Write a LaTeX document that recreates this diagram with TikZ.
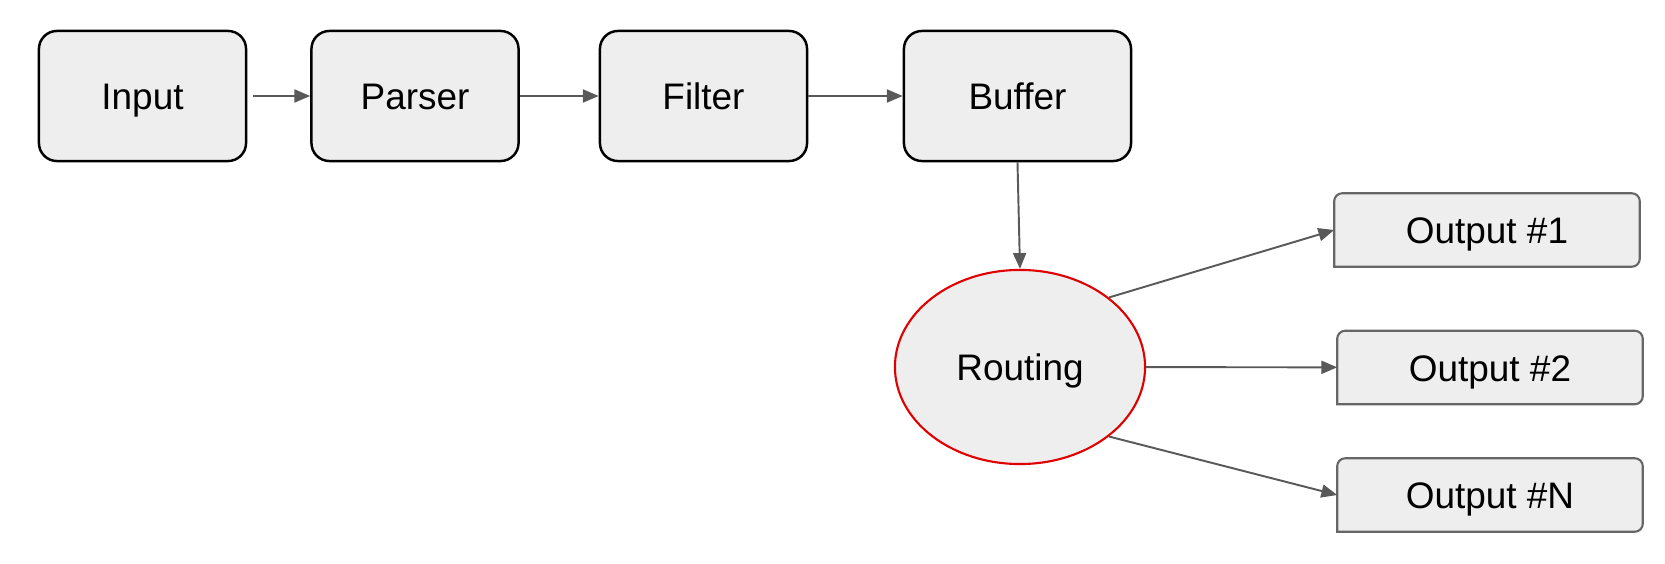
\documentclass[tikz,border=0pt]{standalone}
\usepackage{fontspec}
\setmainfont{Liberation Sans}
\usetikzlibrary{arrows.meta,shapes.geometric,backgrounds}
\definecolor{boxfill}{HTML}{EEEEEE}
\definecolor{linegray}{HTML}{595959}
\definecolor{outgray}{HTML}{666666}
\definecolor{routred}{HTML}{E00000}
\begin{document}
\begin{tikzpicture}[x=0.01cm,y=-0.01cm,
    font=\fontsize{10.5}{12.6}\selectfont,
    every node/.style={text height=0.88em,text depth=0.1em},
    stage/.style={draw=black,line width=0.7pt,fill=boxfill,rounded corners=0.18cm,
        minimum width=2.07cm,minimum height=1.30cm},
    outbox/.style={minimum width=3.04cm,minimum height=0.72cm},
    outline/.style={draw=outgray,line width=0.6pt,fill=boxfill},
    router/.style={ellipse,draw=routred,line width=0.6pt,fill=boxfill,
        minimum width=2.50cm,minimum height=1.94cm},
    flow/.style={draw=linegray,line width=0.55pt,-{Triangle[length=4.5pt,width=3.7pt]}}]
    \useasboundingbox (0,0) rectangle (1665,564);

    \node[stage] (input)  at (142.5,96) {Input};
    \node[stage] (parser) at (415,96) {Parser};
    \node[stage] (filter) at (703.5,96) {Filter};
    \node[stage,minimum width=2.27cm] (buffer) at (1017.5,96) {Buffer};

    \node[router] (rout) at (1020,367) {Routing};

    \node[outbox] (out1) at (1487,230) {Output \#1};
    \node[outbox] (out2) at (1490,367.5) {Output \#2};
    \node[outbox] (outN) at (1490,495) {Output \#N};

    \begin{scope}[on background layer]
    \foreach \o in {out1,out2,outN}
        \path[outline] (\o.south west) [rounded corners=0.08cm] -- (\o.north west)
            -- (\o.north east) -- (\o.south east) [sharp corners] -- cycle;
    \end{scope}

    \draw[flow,shorten <=1.7pt] (input) -- (parser);
    \draw[flow] (parser) -- (filter);
    \draw[flow] (filter) -- (buffer);
    \draw[flow] (buffer.south) -- (rout.north);
    \draw[flow] (rout.38) -- (out1.west);
    \draw[flow] (rout) -- (out2);
    \draw[flow] (rout.-38) -- (outN.west);
\end{tikzpicture}
\end{document}
